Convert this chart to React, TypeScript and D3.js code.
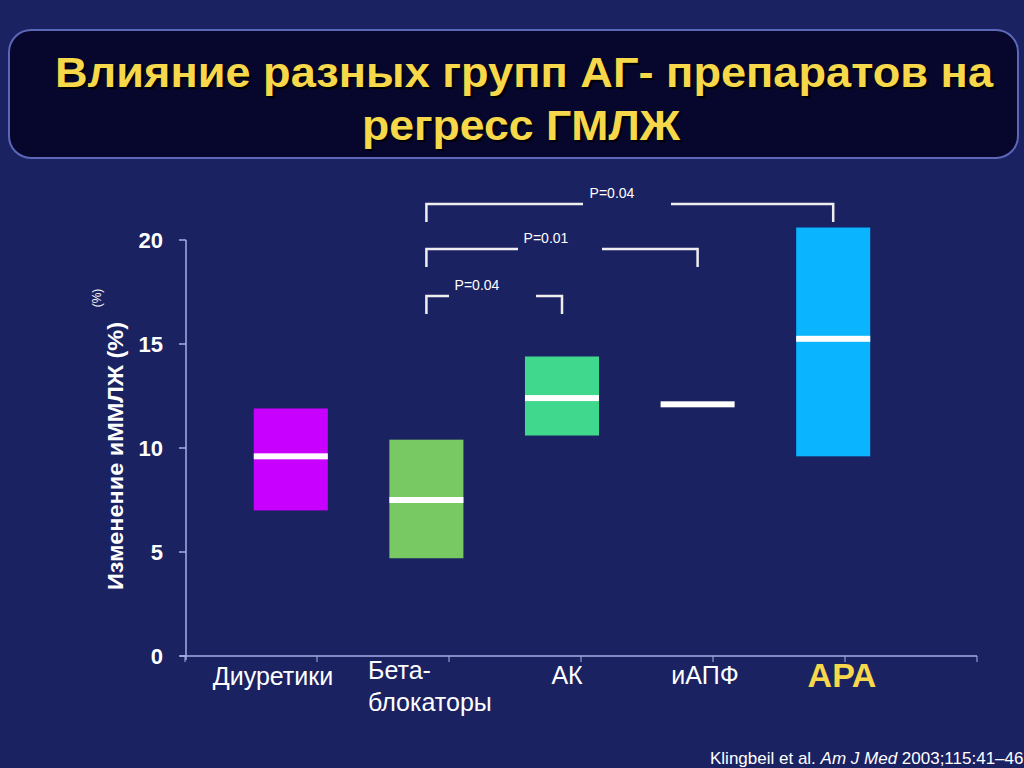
import React from "react";
import * as d3 from "d3";

const categories = ["Диуретики", "Бета-блокаторы", "АК", "иАПФ", "АРА"];
const boxLow = [7.0, 4.7, 10.6, 12.1, 9.6];
const boxHigh = [11.9, 10.4, 14.4, 12.1, 20.6];
const medians = [9.6, 7.5, 12.4, 12.1, 15.25];
const colors = ["#c800ff", "#78c864", "#40d88c", "none", "#0ab4ff"];
const yTicks = [0, 5, 10, 15, 20];
const comparisons = [
  { from: 1, to: 2, label: "P=0.04" },
  { from: 1, to: 3, label: "P=0.01" },
  { from: 1, to: 4, label: "P=0.04" },
];
const titleLines = ["Влияние разных групп АГ- препаратов на", "регресс ГМЛЖ"];
const yAxisLabel = "Изменение иММЛЖ (%)";

const W = 1024;
const H = 768;
const BG = "#1b2262";
const FONT = "Liberation Sans, Arial, sans-serif";

export default function App() {
  const y = d3.scaleLinear().domain([0, 20]).range([656, 240]);
  const x = d3
    .scaleBand<string>()
    .domain(categories)
    .range([223, 901])
    .paddingInner(0.454)
    .paddingOuter(0.227);
  const xTicks = d3.scaleLinear().domain([0, 6]).range([185, 977]);
  const cx = (i: number) => (x(categories[i]) as number) + x.bandwidth() / 2;

  // bracket layout
  const bracketY = [296, 249, 204];
  const bracketGap = [
    [449, 536],
    [518, 602],
    [583, 671],
  ];
  const labelX = [477, 546, 612];
  const bracketDrop = 18;

  return (
    <svg
      width={W}
      height={H}
      style={{ position: "absolute", left: 0, top: 0, display: "block" }}
    >
      <rect x={0} y={0} width={W} height={H} fill={BG} />
      {/* title box */}
      <rect
        x={9}
        y={30}
        width={1009}
        height={128}
        rx={22}
        fill="#07072e"
        stroke="#5c67b8"
        strokeWidth={2}
      />
      <text
        x={524}
        y={87}
        textAnchor="middle"
        fill="#f6d84a"
        fontFamily="'Liberation Sans Narrow', 'Arial Narrow', Liberation Sans, Arial, sans-serif"
        fontWeight="bold"
        fontSize={42}
        textLength={938}
        lengthAdjust="spacingAndGlyphs"
        style={{ textShadow: "2px 2px 1px #000" }}
      >
        {titleLines[0]}
      </text>
      <text
        x={521}
        y={140}
        textAnchor="middle"
        fill="#f6d84a"
        fontFamily="'Liberation Sans Narrow', 'Arial Narrow', Liberation Sans, Arial, sans-serif"
        fontWeight="bold"
        fontSize={42}
        textLength={318}
        lengthAdjust="spacingAndGlyphs"
        style={{ textShadow: "2px 2px 1px #000" }}
      >
        {titleLines[1]}
      </text>

      {/* y axis */}
      <line x1={186} x2={186} y1={240} y2={660} stroke="#a9aee6" strokeWidth={1.5} />
      {yTicks.map((t) => (
        <g key={t}>
          <line x1={179} x2={186} y1={y(t)} y2={y(t)} stroke="#a9aee6" strokeWidth={1.5} />
          <text
            x={163}
            y={y(t)}
            dy="0.36em"
            textAnchor="end"
            fill="#ffffff"
            fontFamily={FONT}
            fontWeight="bold"
            fontSize={22}
          >
            {t}
          </text>
        </g>
      ))}
      {/* x axis */}
      <line x1={180} x2={977} y1={656} y2={656} stroke="#a9aee6" strokeWidth={1.5} />
      {d3.range(7).map((i) => (
        <line
          key={i}
          x1={xTicks(i)}
          x2={xTicks(i)}
          y1={656}
          y2={662}
          stroke="#a9aee6"
          strokeWidth={1}
        />
      ))}

      {/* y label */}
      <text
        transform="translate(123,456) rotate(-90)"
        textAnchor="middle"
        fill="#ffffff"
        fontFamily={FONT}
        fontWeight="bold"
        fontSize={22}
        textLength={268}
        lengthAdjust="spacingAndGlyphs"
      >
        {yAxisLabel}
      </text>
      <text
        transform="translate(101,298) rotate(-90)"
        textAnchor="middle"
        fill="#ffffff"
        fontFamily={FONT}
        fontSize={12}
      >
        (%)
      </text>

      {/* boxes */}
      {categories.map((c, i) => (
        <g key={c}>
          {colors[i] !== "none" && (
            <rect
              x={x(c)}
              y={y(boxHigh[i])}
              width={x.bandwidth()}
              height={y(boxLow[i]) - y(boxHigh[i])}
              fill={colors[i]}
            />
          )}
          <rect
            x={x(c)}
            y={y(medians[i]) - 3}
            width={x.bandwidth()}
            height={6}
            fill="#ffffff"
          />
        </g>
      ))}

      {/* brackets */}
      {comparisons.map((cmp, k) => {
        const x1 = cx(cmp.from);
        const x2 = cx(cmp.to);
        const by = bracketY[k];
        const [g1, g2] = bracketGap[k];
        return (
          <g key={k} stroke="#eeeeee" strokeWidth={2.5} fill="none">
            <polyline points={`${x1},${by + bracketDrop} ${x1},${by} ${g1},${by}`} />
            <polyline points={`${g2},${by} ${x2},${by} ${x2},${by + bracketDrop}`} />
            <text
              x={labelX[k]}
              y={by - 6}
              textAnchor="middle"
              fill="#ffffff"
              stroke="none"
              fontFamily={FONT}
              fontSize={14}
            >
              {cmp.label}
            </text>
          </g>
        );
      })}

      {/* x labels */}
      <text x={273} y={685} textAnchor="middle" fill="#ffffff" fontFamily={FONT} fontSize={25}>
        {categories[0]}
      </text>
      <text x={368} y={679} textAnchor="start" fill="#ffffff" fontFamily={FONT} fontSize={25}>
        <tspan x={368}>Бета-</tspan>
        <tspan x={368} dy={32}>
          блокаторы
        </tspan>
      </text>
      <text x={567} y={684} textAnchor="middle" fill="#ffffff" fontFamily={FONT} fontSize={25}>
        {categories[2]}
      </text>
      <text x={705} y={684} textAnchor="middle" fill="#ffffff" fontFamily={FONT} fontSize={25}>
        {categories[3]}
      </text>
      <text
        x={842}
        y={687}
        textAnchor="middle"
        fill="#f6d84a"
        fontFamily={FONT}
        fontWeight="bold"
        fontSize={34}
      >
        {categories[4]}
      </text>

      {/* citation */}
      <text x={710} y={764} fill="#ffffff" fontFamily={FONT} fontSize={17}>
        Klingbeil et al. <tspan fontStyle="italic">Am J Med</tspan> 2003;115:41–46
      </text>
    </svg>
  );
}
